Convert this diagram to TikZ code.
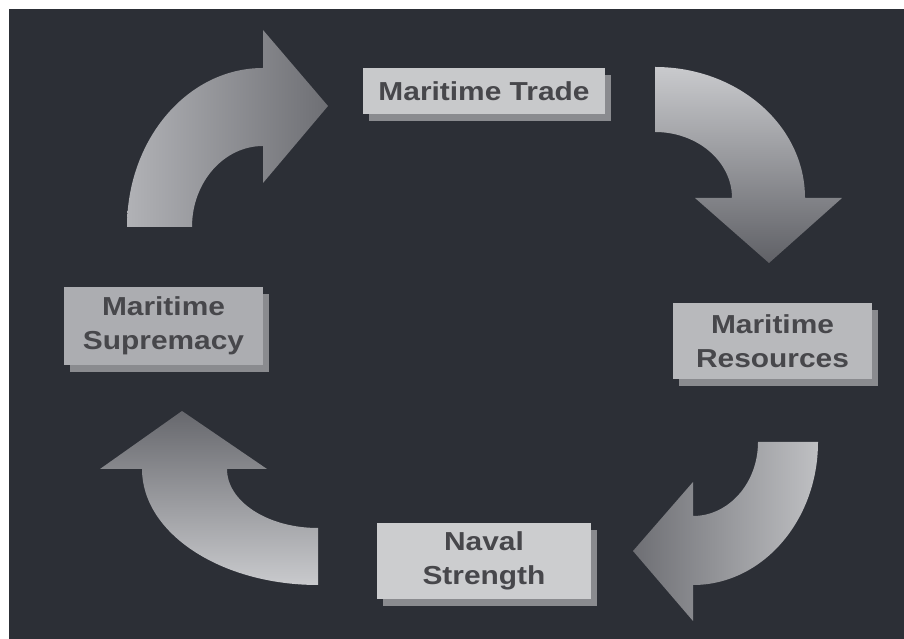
\documentclass[tikz,border=0pt]{standalone}
\usepackage{fontspec}
\newfontfamily\boxfont[FakeStretch=1.15]{Liberation Sans}
\usetikzlibrary{shadows}

\definecolor{bgdark}{HTML}{2C2F36}
\definecolor{labelgray}{HTML}{47474B}
\definecolor{boxshadow}{HTML}{8A8B8F}
\definecolor{tradefill}{HTML}{C8C9CB}
\definecolor{supremacyfill}{HTML}{ACADB1}
\definecolor{resourcefill}{HTML}{B8B9BC}
\definecolor{navalfill}{HTML}{CCCDCF}
\definecolor{arrowlight}{HTML}{C9CACD}
\definecolor{arrowmid}{HTML}{B1B2B6}
\definecolor{arrowdark}{HTML}{6E6F74}

\begin{document}
\begin{tikzpicture}[
    x=1pt, y=1pt,
    every node/.style={font=\boxfont\bfseries\fontsize{26}{34}\selectfont,
      text=labelgray, align=center, inner sep=0pt},
    cyclebox/.style={fill=#1,
      drop shadow={shadow xshift=6pt, shadow yshift=-7pt, opacity=1, fill=boxshadow}},
  ]
  \useasboundingbox (0,0) rectangle (904,639);
  \fill[bgdark] (9,0) rectangle (904,630);

  % curved arrows
  \shade[left color=arrowmid, right color=arrowdark]
    (127,412) arc[start angle=180, end angle=90, x radius=136, y radius=159]
    -- (263,609) -- (328,533) -- (263,456) -- (263,493)
    arc[start angle=90, end angle=180, x radius=71, y radius=81] -- cycle;
  \shade[top color=arrowlight, bottom color=arrowdark!110]
    (655,572) arc[start angle=90, end angle=0, x radius=150, y radius=131]
    -- (842,441) -- (769,376) -- (695,441) -- (732,441)
    arc[start angle=0, end angle=90, x radius=77, y radius=66] -- cycle;
  \shade[right color=arrowlight!95!black, left color=arrowdark]
    (818,197) arc[start angle=0, end angle=-90, x radius=125, y radius=143]
    -- (693,18) -- (633,88) -- (693,157) -- (693,123)
    arc[start angle=-90, end angle=0, x radius=65, y radius=74] -- cycle;
  \shade[top color=arrowdark!105, bottom color=arrowlight]
    (318,54) arc[start angle=270, end angle=180, x radius=176, y radius=116]
    -- (100,170) -- (182,228) -- (267,170) -- (227,170)
    arc[start angle=180, end angle=270, x radius=91, y radius=59] -- cycle;

  \node[cyclebox=tradefill, minimum width=242pt, minimum height=46pt]
    (trade) at (484,548) {Maritime Trade};
  \node[cyclebox=resourcefill, minimum width=199pt, minimum height=76pt]
    (resources) at (772.5,298) {Maritime\\Resources};
  \node[cyclebox=navalfill, minimum width=214pt, minimum height=76pt]
    (naval) at (484,78) {Naval\\Strength};
  \node[cyclebox=supremacyfill, minimum width=199pt, minimum height=78pt]
    (supremacy) at (163.5,313) {Maritime\\Supremacy};
\end{tikzpicture}
\end{document}
